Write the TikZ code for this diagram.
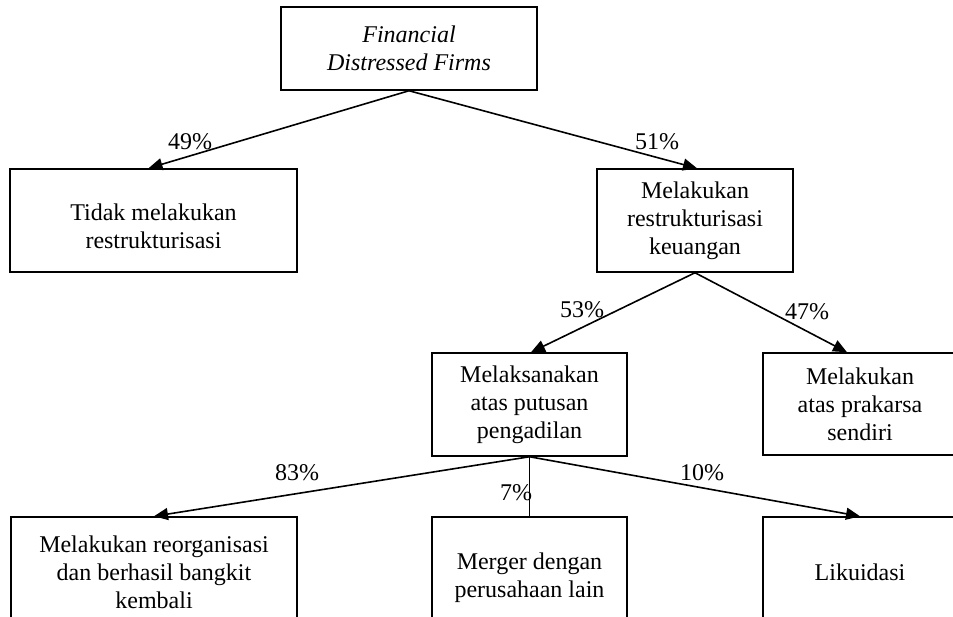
\documentclass[tikz,border=0pt]{standalone}
\usepackage{fontspec}
\setmainfont{Liberation Serif}
\usetikzlibrary{arrows.meta}
\begin{document}
\begin{tikzpicture}[x=1pt,y=-1pt,
  box/.style={draw, line width=1.5pt, align=center, inner sep=0pt, font=\fontsize{24}{28}\selectfont},
  pct/.style={font=\fontsize{24}{28}\selectfont, inner sep=0pt},
  arr/.style={line width=1.6pt, -{Triangle[length=14pt,width=12pt]}},
  ln/.style={line width=1.2pt}]
\useasboundingbox (0,0) rectangle (953,617);
\node[box, minimum width=256pt, minimum height=83pt, font=\fontsize{24}{28}\selectfont\itshape] (top) at (409,48.5) {Financial\\Distressed Firms};
\node[box, minimum width=287pt, minimum height=103pt] (tidak) at (153.5,220.5) {\mbox{}\\Tidak melakukan\\restrukturisasi};
\node[box, minimum width=196pt, minimum height=103pt] (restr) at (695,220.5) {Melakukan\\restrukturisasi\\keuangan};
\node[box, minimum width=195pt, minimum height=103pt] (court) at (529.5,404.5) {Melaksanakan\\atas putusan\\pengadilan};
\node[box, minimum width=194pt, minimum height=102pt] (own) at (860,404) {Melakukan\\atas prakarsa\\sendiri};
\node[box, minimum width=286pt, minimum height=110pt] (reorg) at (154,572) {Melakukan reorganisasi\\dan berhasil bangkit\\kembali};
\node[box, minimum width=195pt, minimum height=110pt] (merger) at (529.5,572) {\mbox{}\\Merger dengan\\perusahaan lain};
\node[box, minimum width=194pt, minimum height=110pt] (likuid) at (860,572) {Likuidasi};

\draw[arr] (top.south) -- ([xshift=-5pt]tidak.north);
\draw[arr] (top.south) -- ([xshift=2pt]restr.north);
\draw[arr] (restr.south) -- ([xshift=1.5pt]court.north);
\draw[arr] (restr.south) -- ([xshift=-13pt]own.north);
\draw[arr] (court.south) -- (reorg.north);
\draw[ln] (court.south) -- ([yshift=-2pt]merger.north);
\draw[arr] (court.south) -- (likuid.north);

\node[pct] (p49) at (190,142) {49\%};
\node[pct] (p51) at (657,142) {51\%};
\node[pct] (p53) at (582,310) {53\%};
\node[pct] (p47) at (807,312) {47\%};
\node[pct] (p83) at (297,473) {83\%};
\node[pct] (p7) at (516,493) {7\%};
\node[pct] (p10) at (702,473) {10\%};
\end{tikzpicture}
\end{document}
